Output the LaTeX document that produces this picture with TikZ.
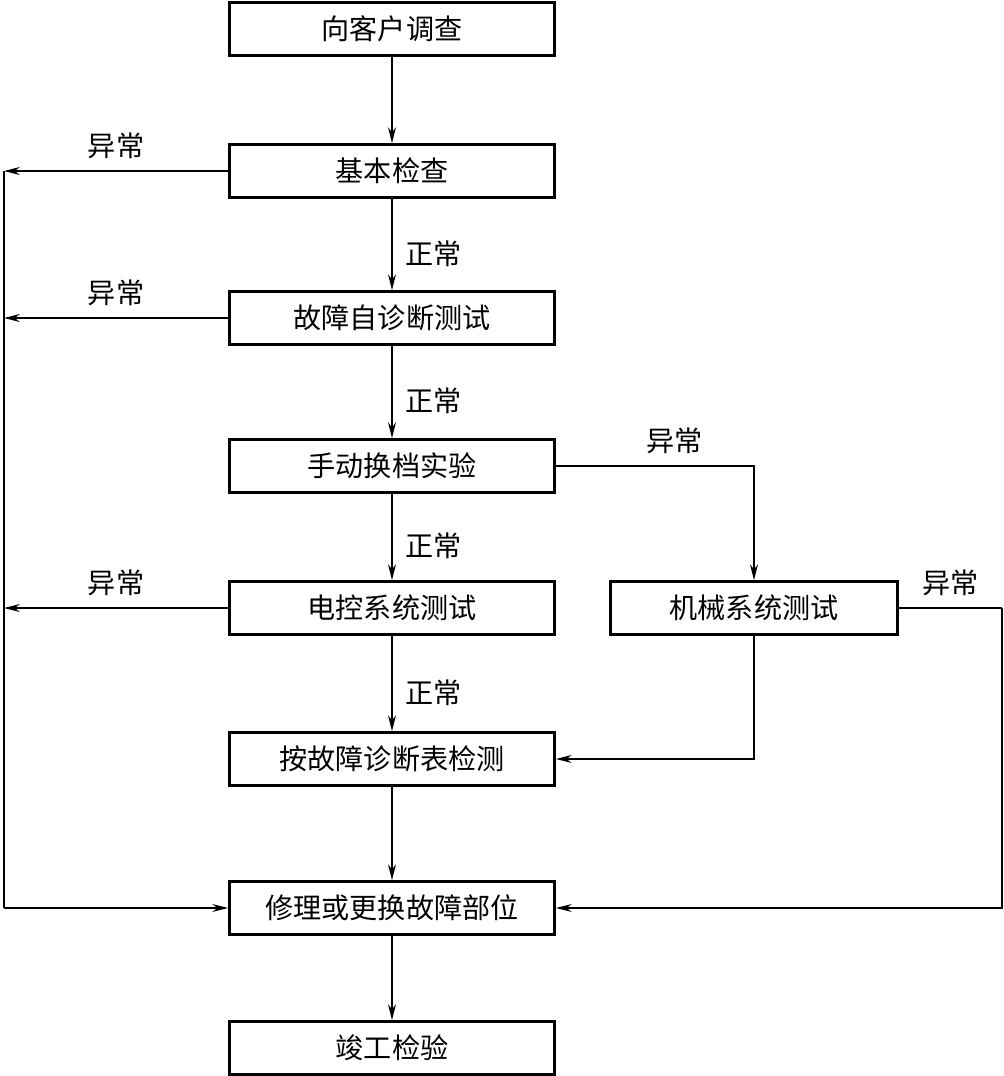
\documentclass[tikz,border=0pt]{standalone}
\usepackage{fontspec}
\newfontfamily\cjk{Noto Sans CJK SC}
\usetikzlibrary{arrows.meta,positioning}

\begin{document}
\begin{tikzpicture}[x=0.02cm,y=-0.02cm,
  box/.style={draw,line width=1.6pt,minimum width=6.5cm,minimum height=1.06cm,inner sep=0pt,font=\cjk\fontsize{16}{18}\selectfont},
  link/.style={line width=0.7pt,-{Stealth[length=9pt,width=4.5pt]}},
  wire/.style={line width=0.7pt},
  lbl/.style={font=\cjk\fontsize{16}{18}\selectfont}]
  \useasboundingbox (0,0) rectangle (1004,1076);
  % main column
  \node[box] (survey) at (392,29) {向客户调查};
  \node[box] (basic) at (392,171) {基本检查};
  \node[box] (selftest) at (392,318) {故障自诊断测试};
  \node[box] (manual) at (392,466) {手动换档实验};
  \node[box] (elec) at (392,608) {电控系统测试};
  \node[box] (table) at (392,759) {按故障诊断表检测};
  \node[box] (repair) at (392,908) {修理或更换故障部位};
  \node[box] (final) at (392,1048) {竣工检验};
  \node[box,minimum width=5.74cm] (mech) at (754,608) {机械系统测试};
  \coordinate (lft) at (4,908);
  \coordinate (rgt) at (1002,608);
  % downward flow
  \draw[link] (survey) -- (basic);
  \draw[link] (basic) -- node[lbl,pos=0.6,right=4pt] {正常} (selftest);
  \draw[link] (selftest) -- node[lbl,pos=0.6,right=4pt] {正常} (manual);
  \draw[link] (manual) -- node[lbl,pos=0.6,right=4pt] {正常} (elec);
  \draw[link] (elec) -- node[lbl,pos=0.6,right=4pt] {正常} (table);
  \draw[link] (table) -- (repair);
  \draw[link] (repair) -- (final);
  % faults to the left
  \draw[link] (basic.west) -- node[lbl,above=3pt] {异常} (basic.west -| lft);
  \draw[link] (selftest.west) -- node[lbl,above=3pt] {异常} (selftest.west -| lft);
  \draw[link] (elec.west) -- node[lbl,above=3pt] {异常} (elec.west -| lft);
  \draw[wire] (basic.west -| lft) -- (lft);
  \draw[link] (lft) -- (repair.west);
  % mechanical branch
  \draw[link] (manual.east) -| node[lbl,pos=0.3,above=3pt] {异常} (mech.north);
  \draw[link] (mech.south) |- (table.east);
  \draw[wire] (mech.east) -- node[lbl,above=3pt] {异常} (rgt);
  \draw[link] (rgt) |- (repair.east);
\end{tikzpicture}
\end{document}
